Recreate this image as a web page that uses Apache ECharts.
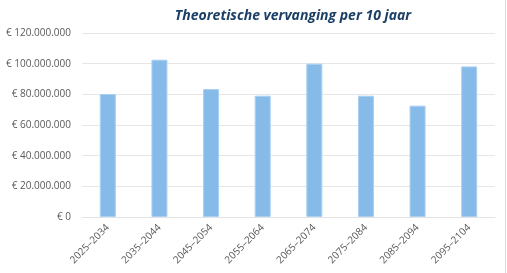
<!DOCTYPE html>
<html><head><meta charset="utf-8">
<script src="https://cdn.jsdelivr.net/npm/echarts@6/dist/echarts.min.js"></script>
<style>html,body{margin:0;padding:0;background:#fff}#c{width:507px;height:273px}</style>
</head><body><div id="c"></div>
<script>
const categories = ['2025–2034','2035–2044','2045–2054','2055–2064','2065–2074','2075–2084','2085–2094','2095–2104'];
const values = [80200000,102600000,83500000,79100000,100000000,79100000,72600000,98200000];
const yTicks = [0,20000000,40000000,60000000,80000000,100000000,120000000];
const titleText = 'Theoretische vervanging per 10 jaar';

function fmt(v){
  if (v === 0) return '€ 0';
  return '€ ' + String(v).replace(/\B(?=(\d{3})+(?!\d))/g, '.');
}
const chart = echarts.init(document.getElementById('c'), null, {renderer:'canvas'});
chart.setOption({
  animation:false,
  title:{text:titleText,left:288,top:4,textAlign:'center',
    textStyle:{color:'#1b3f66',fontSize:14,fontStyle:'italic',fontWeight:'bold',fontFamily:'Open Sans'}},
  grid:{left:82,right:12,top:33,bottom:56,containLabel:false},
  xAxis:{type:'category',data:categories,
    axisLine:{lineStyle:{color:'#e3e3e3',width:1}},axisTick:{show:false},
    axisLabel:{rotate:45,color:'#595959',fontSize:10,fontFamily:'Open Sans',margin:9,interval:0}},
  yAxis:{type:'value',min:yTicks[0],max:yTicks[yTicks.length-1],interval:yTicks[1]-yTicks[0],
    axisLine:{show:false},axisTick:{show:false},
    splitLine:{lineStyle:{color:'#e6e6e6',width:1}},
    axisLabel:{formatter:fmt,color:'#595959',fontSize:10,fontFamily:'Open Sans',margin:11}},
  series:[{type:'bar',data:values,barWidth:16,
    itemStyle:{color:'#86bbe9',borderColor:'#a9d0f2',borderWidth:1}}],
  graphic:[{type:'line',shape:{x1:505.5,y1:0,x2:505.5,y2:273},style:{stroke:'#dcdcdc',lineWidth:1}}]
});
</script></body></html>
